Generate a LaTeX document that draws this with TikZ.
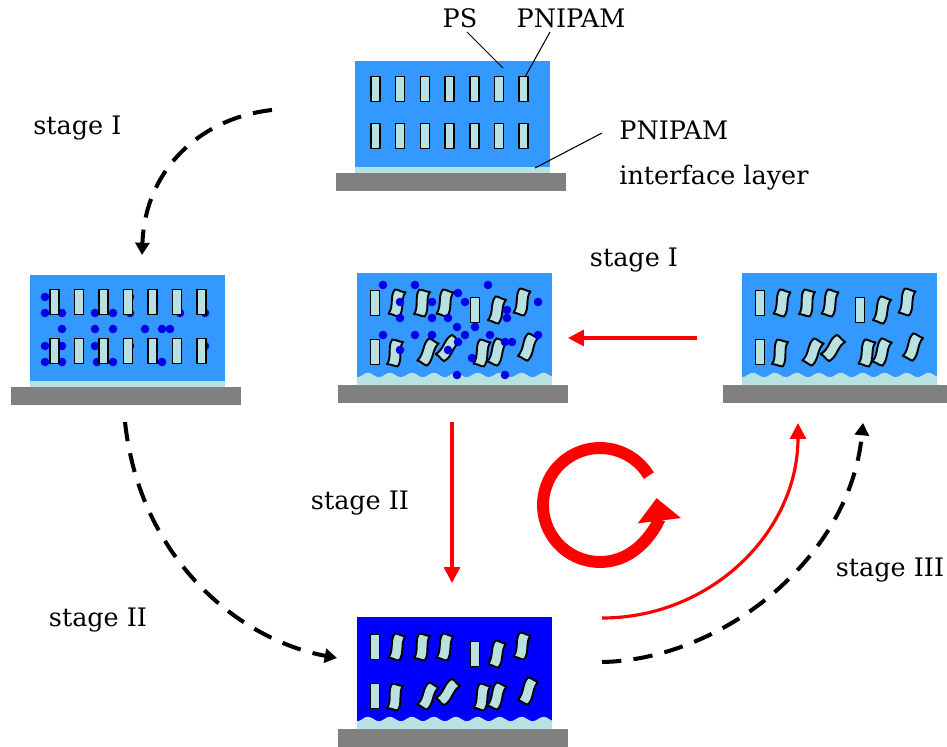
\documentclass[tikz,border=0pt]{standalone}
\usepackage{fontspec}
\setmainfont{DejaVu Serif}
\usetikzlibrary{arrows.meta}

\definecolor{cold}{RGB}{51,153,255}
\definecolor{hot}{RGB}{0,0,255}
\definecolor{gel}{RGB}{184,226,226}
\definecolor{subst}{RGB}{128,128,128}
\definecolor{ion}{RGB}{0,0,230}

% film on a substrate, #1,#2 = top left corner of the film
\newcommand{\flatfilm}[3]{%
  \fill[subst] (#1-19,#2+112) rectangle (#1+211,#2+130);
  \fill[#3] (#1,#2) rectangle (#1+195,#2+106);
  \fill[gel] (#1,#2+106) rectangle (#1+195,#2+112);}
\newcommand{\wavyfilm}[3]{%
  \fill[subst] (#1-19,#2+112) rectangle (#1+211,#2+130);
  \fill[#3] (#1,#2) rectangle (#1+195,#2+112);
  \fill[gel] (#1,#2+112) -- plot[domain=0:195,samples=90] ({#1+\x},{#2+102+2.2*cos(16.4*\x)}) -- (#1+195,#2+112) -- cycle;}
% PS rods, straight and crumpled
\newcommand{\rod}[2]{\draw[rodline] (#1-4.5,#2-12.5) rectangle (#1+4.5,#2+12.5);}
\newcommand{\tiltrod}[3]{\draw[rodline,line width=1.1pt,shift={(#1,#2)},rotate=#3]
  (-5.5,-12.5) .. controls (-2,-13.5) and (2,-11.5) .. (5.5,-12.5)
  .. controls (2,-5) and (9,4) .. (5.5,12.5)
  .. controls (2,13.5) and (-2,11.5) .. (-5.5,12.5)
  .. controls (-2,4) and (-9,-5) .. (-5.5,-12.5) -- cycle;}
\newcommand{\rodset}[2]{%
  \rod{#1+18}{#2+30} \rod{#1+118}{#2+37} \rod{#1+18}{#2+79}
  \tiltrod{#1+40}{#2+30}{-15} \tiltrod{#1+65}{#2+30}{-12} \tiltrod{#1+88}{#2+30}{-15}
  \tiltrod{#1+140}{#2+37}{-18} \tiltrod{#1+165}{#2+29}{-15}
  \tiltrod{#1+38}{#2+80}{-12} \tiltrod{#1+71}{#2+79}{-28} \tiltrod{#1+91}{#2+75}{-40}
  \tiltrod{#1+125}{#2+80}{-15} \tiltrod{#1+140}{#2+79}{-22} \tiltrod{#1+171}{#2+74}{-25}}

\begin{document}
\begin{tikzpicture}[x=0.02cm,y=-0.02cm,
  rodline/.style={fill=gel,draw=black,line width=0.9pt,line join=round},
  lbl/.style={font=\fontsize{14.5pt}{17pt}\selectfont,inner sep=0pt},
  lead/.style={line width=0.6pt},
  dasharrow/.style={line width=2.3pt,dash pattern=on 11pt off 7pt,-{Triangle[width=8pt,length=7pt]}},
  redarrow/.style={red,line width=1.8pt,-{Triangle[width=9pt,length=9pt]}}]
\useasboundingbox (0,0) rectangle (947,747);

% films
\flatfilm{355}{61}{cold}
\foreach \i in {0,...,6} {\rod{375.5+24.7*\i}{89} \rod{375.5+24.7*\i}{136}}
\flatfilm{30}{275}{cold}
\foreach \p in {(45,297),(45,313),(62,313),(95,313),(113,313),(130,297),(130,313),(180,313),(205,313),
  (62,329),(95,329),(113,329),(145,329),(162,329),(170,329),
  (45,346),(62,346),(95,346),(130,346),(205,346),(45,362),(62,362),(97,362),(113,362),(162,362)}
  \fill[ion] \p circle[radius=4.3];
\foreach \i in {0,...,6} {\rod{54.5+24.5*\i}{302} \rod{54.5+24.5*\i}{351}}
\wavyfilm{357}{273}{cold}
\rodset{357}{273}
\foreach \p in {(383,285),(415,285),(488,285),(400,302),(432,302),(458,293),(465,302),(538,302),
  (400,318),(432,318),(448,318),(457,327),(475,327),(507,310),(507,318),
  (383,335),(415,335),(432,335),(465,335),(490,335),(505,342),(512,342),(538,335),
  (400,350),(448,350),(458,342),(472,358),(457,375),(505,375)}
  \fill[ion] \p circle[radius=4.3];
\wavyfilm{742}{273}{cold}
\rodset{742}{273}
\wavyfilm{357}{617}{hot}
\rodset{357}{617}

% labels
\node[lbl] (ps) at (460,18) {PS};
\node[lbl] (pn) at (571,18) {PNIPAM};
\node[lbl,anchor=west] (il) at (619,130) {PNIPAM};
\node[lbl,anchor=west] (il2) at (619,178) {interface layer};
\node[lbl,anchor=west] (s1) at (33,128) {stage I};
\node[lbl] (s1b) at (634,260) {stage I};
\node[lbl] (s2) at (98,620) {stage II};
\node[lbl] (s2b) at (360,503) {stage II};
\node[lbl] (s3) at (890,570) {stage III};
\coordinate (psend) at (503,68); \coordinate (pnend) at (525,77); \coordinate (ilend) at (535,168);
\draw[lead] (467,32) -- (psend); \draw[lead] (550,32) -- (pnend); \draw[lead] (602,133) -- (ilend);

% cycle arrows
\coordinate (A) at (272,110); \coordinate (B) at (142,255);
\coordinate (C) at (125,422); \coordinate (D) at (337,658);
\coordinate (E) at (602,662); \coordinate (F) at (863,423);
\coordinate (G) at (602,618); \coordinate (H) at (798,423);
\coordinate (K) at (452,422); \coordinate (L) at (452,583);
\coordinate (M) at (697,338); \coordinate (N) at (568,338);
\coordinate (O) at (600,505);
\draw[dasharrow] (A) .. controls (200,118) and (145,170) .. (B);
\draw[dasharrow] (C) .. controls (140,560) and (240,640) .. (D);
\draw[dasharrow] (E) .. controls (720,660) and (850,560) .. (F);
\draw[redarrow] (G) .. controls (711,618) and (798,532) .. (H);
\draw[redarrow] (K) -- (L);
\draw[redarrow] (M) -- (N);
\draw[red,line width=6.8pt,-{Triangle[width=24pt,length=13pt]}] (O) ++(-31:57) arc[start angle=-31,end angle=-367,radius=57];
\end{tikzpicture}
\end{document}
